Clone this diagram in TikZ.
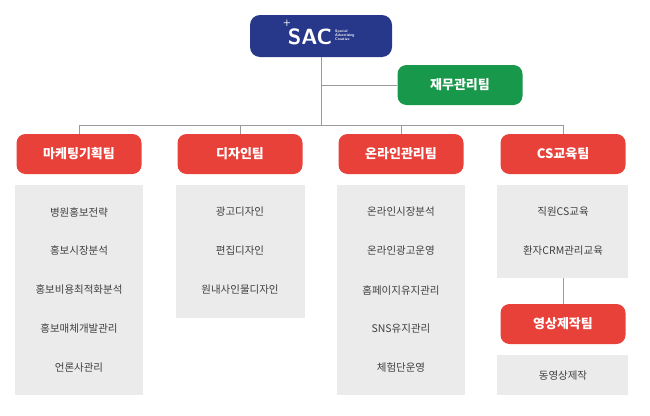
\documentclass[tikz,border=0pt]{standalone}
\usepackage{fontspec}
\newfontfamily\kr{Noto Sans CJK KR}
\setmainfont{Liberation Sans}
\definecolor{sacred}{HTML}{E8413A}
\definecolor{sacgreen}{HTML}{18984A}
\definecolor{sacblue}{HTML}{27378A}
\definecolor{sacgrey}{HTML}{EBEBEB}
\definecolor{lineg}{HTML}{9A9A9A}
\begin{document}
\begin{tikzpicture}[x=1pt,y=-1pt,
 team/.style={fill=sacred,rounded corners=9pt,minimum width=125pt,minimum height=40pt,text=white,font=\kr\bfseries\fontsize{13}{15}\selectfont},
 item/.style={font=\kr\fontsize{10.5}{12}\selectfont,text=black!75},
 conn/.style={draw=lineg,line width=0.8pt}]
\useasboundingbox (0,0) rectangle (650,415);
\node[fill=sacblue,rounded corners=10pt,minimum width=142pt,minimum height=42pt] (sac) at (321,36) {};
\node[text=white,font=\sffamily\bfseries\fontsize{22}{22}\selectfont,inner sep=0pt] (sact) at (310,37) {SAC};
\node[text=white,font=\sffamily\bfseries\fontsize{9}{9}\selectfont,inner sep=0pt] (star) at (287,23) {+};
\node[text=white,font=\sffamily\bfseries\fontsize{3.8}{4.2}\selectfont,align=left,anchor=west,inner sep=0pt] (sub) at (335,35) {Special\\Advertising\\Creative};
\node[team,fill=sacgreen] (fin) at (460,85) {재무관리팀};
\coordinate (bar) at (321,125);
\coordinate (mid) at (321,85);
\draw[conn] (sac.south) -- (bar);
\draw[conn] (mid) -- (fin.west);
\node[team] (t1) at (79,154) {마케팅기획팀};
\node[team] (t2) at (240,154) {디자인팀};
\node[team] (t3) at (401,154) {온라인관리팀};
\node[team] (t4) at (563,154) {CS교육팀};
\coordinate (b1) at (79,125); \coordinate (b4) at (563,125);
\coordinate (b2) at (240,125); \coordinate (b3) at (401,125);
\draw[conn] (b1) -- (b4);
\foreach \i in {1,2,3,4} \draw[conn] (b\i) -- (t\i.north);
\fill[sacgrey] (15,185) rectangle (143,395);
\fill[sacgrey] (176,185) rectangle (305,318);
\fill[sacgrey] (337,185) rectangle (465,395);
\fill[sacgrey] (497,185) rectangle (628,278);
\fill[sacgrey] (497,355) rectangle (628,395);
\node[team] (t5) at (563,324) {영상제작팀};
\coordinate (g4) at (563,278);
\draw[conn] (g4) -- (t5.north);
\foreach \t [count=\k] in {병원홍보전략,홍보시장분석,홍보비용최적화분석,홍보매체개발관리,언론사관리}
 \node[item] (a\k) at (79,173+39*\k) {\t};
\foreach \t [count=\k] in {광고디자인,편집디자인,원내사인물디자인}
 \node[item] (d\k) at (240,173+39*\k) {\t};
\foreach \t [count=\k] in {온라인시장분석,온라인광고운영,홈페이지유지관리,SNS유지관리,체험단운영}
 \node[item] (o\k) at (401,173+39*\k) {\t};
\node[item] (c1) at (563,212) {직원CS교육};
\node[item] (c2) at (563,251) {환자CRM관리교육};
\node[item] (v1) at (563,376) {동영상제작};
\end{tikzpicture}
\end{document}
